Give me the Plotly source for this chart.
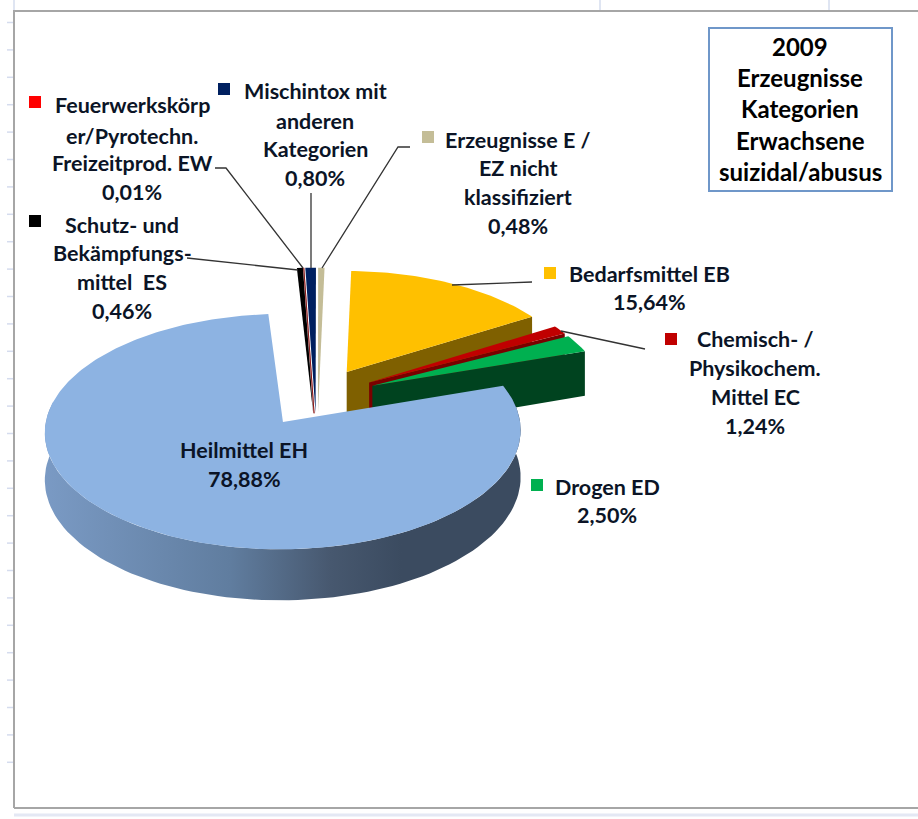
import math
import plotly.graph_objects as go

# ---- data ----
categories = ["Schutz- und Bekämpfungsmittel ES", "Feuerwerkskörper/Pyrotechn. Freizeitprod. EW",
              "Mischintox mit anderen Kategorien", "Erzeugnisse E / EZ nicht klassifiziert",
              "Bedarfsmittel EB", "Chemisch- / Physikochem. Mittel EC", "Drogen ED", "Heilmittel EH"]
shares = [0.46, 0.01, 0.80, 0.48, 15.64, 1.24, 2.50, 78.88]
top_colors = ["#000000", "#FF0000", "#002060", "#C4BD97", "#FFC000", "#C00000", "#00B050", "#8DB3E2"]
side_colors = ["#000000", "#800000", "#002060", "#C4BD97", "#7F6000", "#7A0000", "#00431F", "#5F7FA5"]
title_lines = ["2009", "Erzeugnisse", "Kategorien", "Erwachsene", "suizidal/abusus"]

# ---- perspective projection of an exploded pie ----
CX, CY, R, Q = 317, 397, 233, 113
P = 0.08          # perspective strength
DEPTH = 46
EXPLODE = 0.26    # in pie radii
START = 94.5
scale = 360 / sum(shares)


def project(u, v, drop=0.0):
    w = 1 + P * v
    return CX + R * u / w, CY - Q * v / w + drop / w


def rim(u0, v0, deg, drop=0.0):
    t = math.radians(deg)
    return project(u0 + math.cos(t), v0 + math.sin(t), drop)


angles, a = [], START
for v in shares:
    angles.append((a, a - v * scale))
    a -= v * scale

fig = go.Figure()
layers = [4, 5, 6, 3, 2, 0, 1, 7]
for i in layers:
    a0, a1 = angles[i]
    mid = math.radians((a0 + a1) / 2)
    u0, v0 = EXPLODE * math.cos(mid), EXPLODE * math.sin(mid)
    ax, ay = project(u0, v0)
    n = max(3, int(abs(a0 - a1)) + 2)
    pts = [rim(u0, v0, a0 + (a1 - a0) * j / (n - 1)) for j in range(n)]
    if i == 7:
        front = [170 + j * 2 for j in range(105)]
        up = [rim(u0, v0, d) for d in front]
        low = [rim(u0, v0, d, DEPTH) for d in reversed(front)]
        fig.add_trace(go.Scatter(x=[p[0] for p in up + low], y=[p[1] for p in up + low],
                                 mode="lines", fill="toself", line=dict(width=0),
                                 fillgradient=dict(type="horizontal", colorscale=[
                                     [0, "#7A9AC4"], [0.39, "#607D9F"], [0.6, "#47586F"],
                                     [0.75, "#3B4B60"], [1, "#3B4B60"]]),
                                 hoverinfo="skip", showlegend=False))
    elif i in (0, 1, 2, 3):
        # slices pointing away from the viewer: top and side read as one tapered wedge
        tip = project(u0, v0, DEPTH)
        fig.add_trace(go.Scatter(x=[p[0] for p in pts] + [tip[0], pts[0][0]],
                                 y=[p[1] for p in pts] + [tip[1], pts[0][1]],
                                 mode="lines", fill="toself", fillcolor=top_colors[i] if i != 1 else side_colors[i],
                                 line=dict(width=0.7 if i == 1 else 0, color=side_colors[i]),
                                 name=categories[i], hoverinfo="name", showlegend=False))
        continue
    else:
        c, c2 = rim(u0, v0, a1), rim(u0, v0, a1, DEPTH)
        b = project(u0, v0, DEPTH)
        fig.add_trace(go.Scatter(x=[ax, c[0], c2[0], b[0], ax], y=[ay, c[1], c2[1], b[1], ay],
                                 mode="lines", fill="toself", fillcolor=side_colors[i], line=dict(width=0),
                                 hoverinfo="skip", showlegend=False))
    fig.add_trace(go.Scatter(x=[ax] + [p[0] for p in pts] + [ax], y=[ay] + [p[1] for p in pts] + [ay],
                             mode="lines", fill="toself", fillcolor=top_colors[i], line=dict(width=0),
                             name=categories[i], hoverinfo="name", showlegend=False))

# ---- labels: (lines, centre x, line ys) ----
LABELS = [
    (["Feuerwerkskörp", "er/Pyrotechn.", "Freizeitprod. EW", "0,01%"], 132, [105, 136, 163, 192]),
    (["Mischintox mit", "anderen", "Kategorien", "0,80%"], 315, [91, 121, 149, 178]),
    (["Erzeugnisse E /", "EZ nicht", "klassifiziert", "0,48%"], 518, [140, 168, 197, 226]),
    (["Bedarfsmittel EB", "15,64%"], 649, [274, 302]),
    (["Chemisch- /", "Physikochem.", "Mittel EC", "1,24%"], 755, [339, 368, 397, 426]),
    (["Drogen ED", "2,50%"], 607, [487, 515]),
    (["Heilmittel EH", "78,88%"], 244, [450, 479]),
    (["Schutz- und", "Bekämpfungs-", "mittel  ES", "0,46%"], 122, [225, 253, 282, 311]),
]
for lines, x, ys in LABELS:
    for t, y in zip(lines, ys):
        fig.add_annotation(x=x, y=y, text=t, showarrow=False, xanchor="center", yanchor="middle",
                           font=dict(family="Lato", size=21.5, color="#0B1426", weight=700))
for t, y in zip(title_lines, [46, 77, 108, 140, 171]):
    fig.add_annotation(x=800, y=y, text=t, showarrow=False, xanchor="center", yanchor="middle",
                       font=dict(family="Lato", size=24, color="#000000", weight=700))

# ---- frame, worksheet ticks, legend keys, leader lines ----
shapes = []
PALE = "#D5DCEE"
for k in range(28):
    y = 22.5 + k * 27.4
    shapes.append(dict(type="line", x0=7, x1=14, y0=y, y1=y, line=dict(color=PALE, width=1.5)))
for x in [14, 600, 829]:
    shapes.append(dict(type="line", x0=x, x1=x, y0=0, y1=11, line=dict(color=PALE, width=1.5)))
shapes.append(dict(type="line", x0=14, x1=918, y0=815, y1=815, line=dict(color="#E4E8F4", width=3)))
shapes.append(dict(type="path", path="M14,808 L14,11 L918,11", line=dict(color="#A6A6A6", width=2)))
shapes.append(dict(type="line", x0=14, x1=918, y0=808, y1=808, line=dict(color="#A6A6A6", width=2)))
shapes.append(dict(type="rect", x0=709, x1=892, y0=28, y1=191, line=dict(color="#6F97C9", width=2)))
for (x, y), col in zip([(35, 221), (35, 102), (224, 89), (428, 137), (550, 273), (671, 339), (537, 485)], top_colors):
    shapes.append(dict(type="rect", x0=x - 6, x1=x + 6, y0=y - 6, y1=y + 6, fillcolor=col, line=dict(width=0)))
for p in ["M215,168 L226,168 L303,268", "M311,193 L311,268", "M410,147 L398,147 L322,268",
          "M187,258 L298,270", "M532,282 L452,285", "M561,331 L645,349"]:
    shapes.append(dict(type="path", path=p, line=dict(color="#333333", width=1.3)))

fig.update_layout(width=918, height=819, margin=dict(l=0, r=0, t=0, b=0), paper_bgcolor="white",
                  plot_bgcolor="white", shapes=shapes, showlegend=False,
                  xaxis=dict(range=[0, 918], visible=False, fixedrange=True),
                  yaxis=dict(range=[819, 0], visible=False, fixedrange=True))
fig.write_html("out.html", config={"displayModeBar": False},
               post_script="document.body.style.margin='0';document.body.style.overflow='hidden';")
